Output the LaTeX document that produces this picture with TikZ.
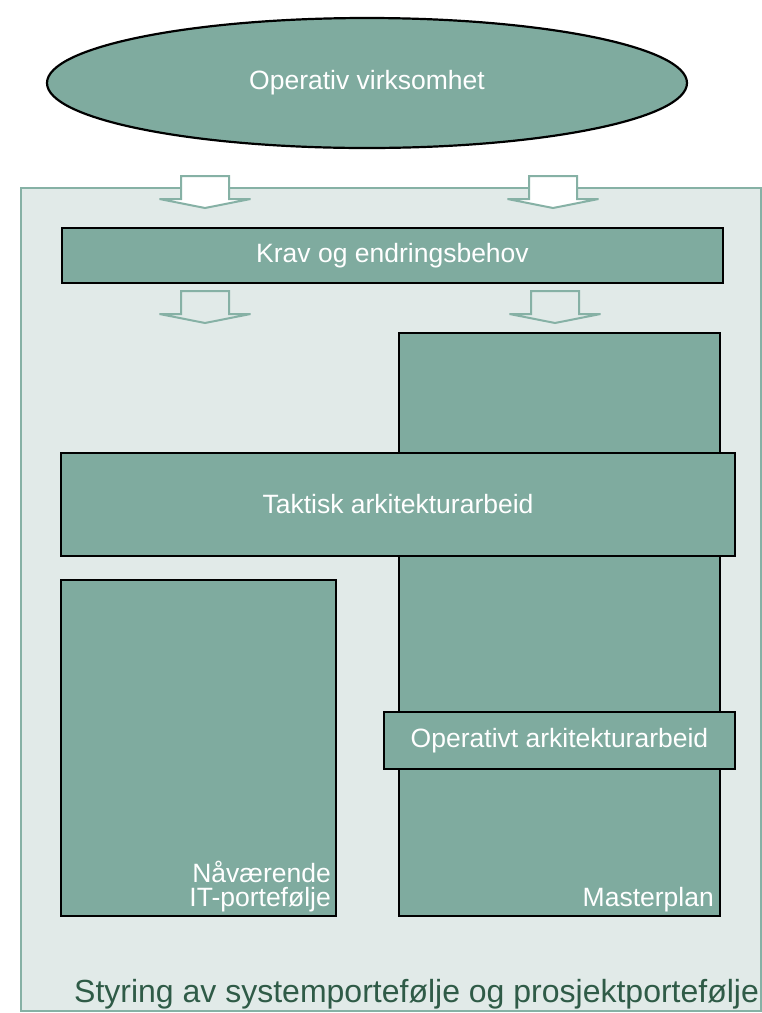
\documentclass[tikz,border=0pt]{standalone}
\usepackage{fontspec}
\setmainfont{Liberation Sans}
\usetikzlibrary{shapes.geometric}
\definecolor{boxfill}{HTML}{7FAB9F}
\definecolor{panelfill}{HTML}{E1EAE8}
\definecolor{panelline}{HTML}{86B1A5}
\definecolor{captiongreen}{HTML}{2F5B47}
\tikzset{
  box/.style={draw=black, line width=2pt, fill=boxfill, text=white,
    font=\fontsize{26.5}{24}\selectfont, inner sep=0pt},
  lbl/.style={text=white, font=\fontsize{26.5}{24}\selectfont, inner sep=0pt, align=right},
  arrowline/.style={draw=panelline, line width=2pt, line join=miter},
  pics/blockarrow/.style={code={
    \path[arrowline,#1] (-24,0) -- (24,0) -- (24,23) -- (45.5,23) -- (0,32)
      -- (-45.5,23) -- (-24,23) -- cycle;}}
}
\begin{document}
\begin{tikzpicture}[x=1pt,y=-1pt]
\useasboundingbox (0,0) rectangle (762,1013);
% outer panel
\node[draw=panelline, line width=2pt, fill=panelfill, minimum width=740pt,
  minimum height=823pt, inner sep=0pt] (panel) at (390.5,599.5) {};
% top ellipse
\node[ellipse, box, line width=2.2pt, minimum width=640pt, minimum height=130pt]
  (ops) at (367,83) {Operativ virksomhet};
% block arrows
\pic at (205,176) {blockarrow={fill=white}};
\pic at (553,176) {blockarrow={fill=white}};
\pic at (205,291) {blockarrow={fill=panelfill}};
\pic at (555,291) {blockarrow={fill=panelfill}};
% boxes
\node[box, minimum width=661pt, minimum height=55pt] (krav) at (392.5,255.5)
  {Krav og endringsbehov};
\node[box, minimum width=321pt, minimum height=583pt] (master) at (559.5,624.5) {};
\node[box, minimum width=674pt, minimum height=103pt] (taktisk) at (398,504.5)
  {Taktisk arkitekturarbeid};
\node[box, minimum width=275pt, minimum height=336pt] (naa) at (198.5,748) {};
\node[box, minimum width=351pt, minimum height=57pt] (operativt) at (559.5,740.5)
  {Operativt arkitekturarbeid};
% corner labels
\node[lbl, anchor=south east] (naalbl) at ([xshift=-6pt,yshift=5pt]naa.south east)
  {Nåværende\\IT-portefølje};
\node[lbl, anchor=south east] (masterlbl) at ([xshift=-7pt,yshift=5pt]master.south east)
  {Masterplan};
% caption
\node[anchor=base west, inner sep=0pt, text=captiongreen,
  font=\fontsize{32}{32}\selectfont] (caption) at (74,1002)
  {Styring av systemportefølje og prosjektportefølje};
\end{tikzpicture}
\end{document}
